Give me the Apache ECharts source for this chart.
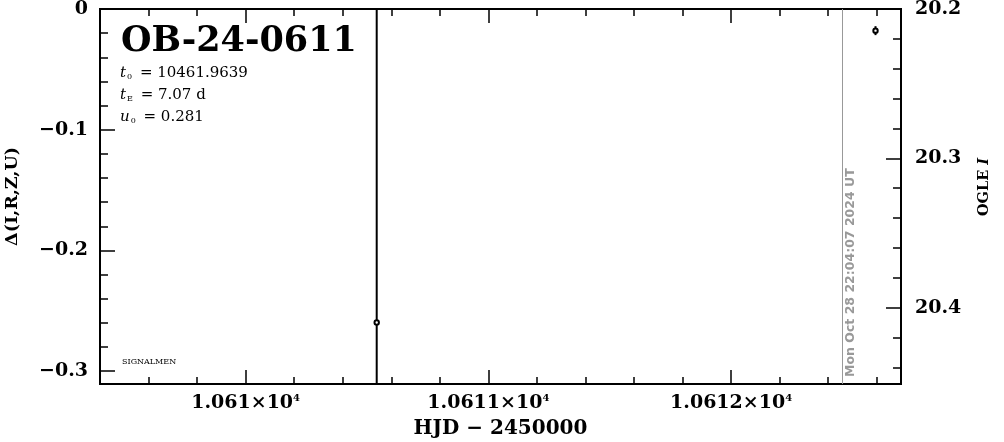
<!DOCTYPE html>
<html><head><meta charset="utf-8">
<script src="https://cdn.jsdelivr.net/npm/echarts@6/dist/echarts.min.js"></script>
<style>html,body{margin:0;padding:0;background:#fff}#c{width:1004px;height:442px}</style>
</head><body><div id="c"></div>
<script>
// ---- data ----
const eventName = 'OB-24-0611';
const t0Text = '10461.9639';
const tEText = '7.07 d';
const u0Text = '0.281';
const credit = 'SIGNALMEN';
const nowLabel = 'Mon Oct 28 22:04:07 2024 UT';
const nowHJD = 10612.458;
const hjd = [10610.540, 10612.595];
const mag = [20.410, 20.2145];
const magErr = [1.0, 0.003];
const xRange = [10609.40, 10612.70];
const deltaRange = [-0.3107, 0];
const magRange = [20.2, 20.4512];
const xMajorTicks = [10610, 10611, 10612];
const deltaMajorTicks = [0, -0.1, -0.2, -0.3];
const magMajorTicks = [20.2, 20.3, 20.4];
const xMinorStep = 0.2, deltaMinorStep = 0.02, magMinorStep = 0.02;

function steps(lo, hi, step) {
  const out = [];
  const s = Math.ceil(lo / step - 1e-9), e = Math.floor(hi / step + 1e-9);
  for (let k = s; k <= e; k++) out.push(+(k * step).toFixed(6));
  return out;
}
const xMinor = steps(xRange[0], xRange[1], xMinorStep);
const deltaMinor = steps(deltaRange[0], deltaRange[1], deltaMinorStep);
const magMinor = steps(magRange[0], magRange[1], magMinorStep);

const FONT = 'DejaVu Serif';
const tick = { color: '#000', width: 1.5 };

function axis(min, max, position, ticks, len, label, extra) {
  return Object.assign({
    type: 'value', min, max, position, scale: true,
    splitLine: { show: false },
    axisLine: { show: false, onZero: false },
    axisTick: { show: true, inside: true, length: len, customValues: ticks, lineStyle: tick },
    axisLabel: label ? Object.assign({ customValues: ticks, hideOverlap: false }, label) : { show: false }
  }, extra || {});
}

const chart = echarts.init(document.getElementById('c'), null, { renderer: 'canvas' });

const xLabel = {
  margin: 9,
  formatter: v => `{m|${+(v / 1e4).toFixed(4)}×10}{e|4}`,
  rich: {
    m: { fontFamily: FONT, fontWeight: 'bold', fontSize: 19, color: '#000' },
    e: { fontFamily: FONT, fontWeight: 'bold', fontSize: 10, color: '#000', verticalAlign: 'top', padding: [0, 0, 10, 0] }
  }
};
const subRich = {
  i: { fontStyle: 'italic', fontFamily: FONT, fontSize: 15 },
  s: { fontFamily: FONT, fontSize: 8, verticalAlign: 'bottom', padding: [7, 3, 0, 1] }
};

const option = {
  animation: false,
  backgroundColor: '#fff',
  grid: { left: 100, right: 103, top: 9, bottom: 58, outerBoundsMode: 'none', containLabel: false,
          show: true, borderColor: '#000', borderWidth: 2, backgroundColor: 'transparent' },
  xAxis: [
    axis(xRange[0], xRange[1], 'bottom', xMajorTicks, 14, xLabel, {
      name: 'HJD − 2450000', nameLocation: 'middle', nameGap: 35,
      nameTextStyle: { fontFamily: FONT, fontWeight: 'bold', fontSize: 20, color: '#000' }
    }),
    axis(xRange[0], xRange[1], 'bottom', xMinor, 7, null),
    axis(xRange[0], xRange[1], 'top', xMajorTicks, 14, null),
    axis(xRange[0], xRange[1], 'top', xMinor, 7, null)
  ],
  yAxis: [
    axis(deltaRange[0], deltaRange[1], 'left', deltaMajorTicks, 15, {
      margin: 12, fontFamily: FONT, fontWeight: 'bold', fontSize: 19, color: '#000',
      formatter: v => v === 0 ? '0' : '−' + Math.abs(v).toFixed(1)
    }, {
      name: 'Δ(I,R,Z,U)', nameLocation: 'middle', nameGap: 79, nameRotate: 90,
      nameTextStyle: { fontFamily: FONT, fontWeight: 'bold', fontSize: 17.5, color: '#000' }
    }),
    axis(deltaRange[0], deltaRange[1], 'left', deltaMinor, 8, null),
    axis(magRange[0], magRange[1], 'right', magMajorTicks, 15, {
      margin: 14, fontFamily: FONT, fontWeight: 'bold', fontSize: 19, color: '#000',
      formatter: v => v.toFixed(1)
    }, { inverse: true }),
    axis(magRange[0], magRange[1], 'right', magMinor, 8, null, { inverse: true })
  ],
  graphic: [
    { type: 'text', left: 121, top: 24, style: { text: eventName, fontFamily: FONT, fontWeight: 'bold', fontSize: 35, fill: '#000' } },
    { type: 'text', left: 120, top: 66, style: { text: `{i|t}{s|0} = ${t0Text}`, fontFamily: FONT, fontSize: 15, fill: '#000', rich: subRich } },
    { type: 'text', left: 120, top: 88, style: { text: `{i|t}{s|E} = ${tEText}`, fontFamily: FONT, fontSize: 15, fill: '#000', rich: subRich } },
    { type: 'text', left: 120, top: 110, style: { text: `{i|u}{s|0} = ${u0Text}`, fontFamily: FONT, fontSize: 15, fill: '#000', rich: subRich } },
    { type: 'text', left: 122, top: 358, style: { text: credit, fontFamily: FONT, fontSize: 8, fill: '#000' } },
    { type: 'text', x: 984, y: 187, rotation: Math.PI / 2, style: {
      text: '{n|OGLE }{i|I}', align: 'center', verticalAlign: 'middle',
      rich: { n: { fontFamily: FONT, fontWeight: 'bold', fontSize: 14.5, fill: '#000' }, i: { fontFamily: FONT, fontWeight: 'bold', fontStyle: 'italic', fontSize: 14.5, fill: '#000' } } } }
  ],
  series: [
    {
      type: 'custom', xAxisIndex: 0, yAxisIndex: 2, clip: true,
      data: hjd.map((x, i) => [x, mag[i], magErr[i]]),
      renderItem: (params, api) => {
        const x = api.value(0), m = api.value(1), e = api.value(2);
        const p = api.coord([x, m]);
        const a = api.coord([x, m - e]), b = api.coord([x, m + e]);
        return { type: 'group', children: [
          { type: 'line', shape: { x1: a[0], y1: a[1], x2: b[0], y2: b[1] }, style: { stroke: '#000', lineWidth: 2 } },
          { type: 'circle', shape: { cx: p[0], cy: p[1], r: 2.2 }, style: { fill: '#fff', stroke: '#000', lineWidth: 2 } }
        ] };
      }
    },
    {
      type: 'line', xAxisIndex: 0, yAxisIndex: 0, data: [], silent: true,
      markLine: {
        symbol: 'none', silent: true, animation: false,
        lineStyle: { color: '#999', width: 1, type: 'solid' },
        label: { show: true, formatter: nowLabel, position: 'insideStartBottom', distance: [7, 2],
          fontFamily: 'DejaVu Sans', fontWeight: 'bold', fontSize: 12.5, color: '#999' },
        data: [{ xAxis: nowHJD }]
      }
    }
  ]
};
chart.setOption(option);
</script></body></html>
